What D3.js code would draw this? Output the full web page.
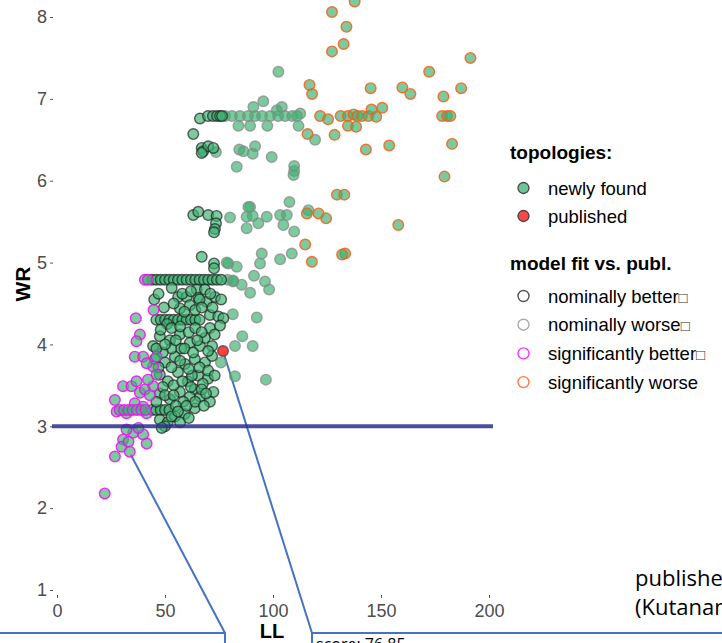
<!DOCTYPE html>
<html>
<head>
<meta charset="utf-8">
<script src="https://cdn.jsdelivr.net/npm/d3@7"></script>
<style>
body { margin: 0; background: #fff; }
svg { display: block; }
</style>
</head>
<body>
<svg id="svg1" width="722" height="643"></svg>
<script>
var width = document.getElementById('svg1').clientWidth;
var height = document.getElementById('svg1').clientHeight;

// tick values
var xTicks = [0, 50, 100, 150, 200];
var yTicks = [1, 2, 3, 4, 5, 6, 7, 8];

// [LL, WR]
var sigWorse = [
    [127.3,8.06],[137.8,8.19],[134.0,7.88],[132.7,7.67],[127.3,7.58],[191.4,7.50],[172.3,7.33],
    [116.9,7.17],[118.1,7.06],[145.2,7.13],[159.9,7.14],[163.6,7.06],[187.1,7.13],[178.9,7.03],
    [121.8,6.79],[125.5,6.75],[131.3,6.79],[134.7,6.79],[137.3,6.81],[139.1,6.79],[141.2,6.79],
    [144.2,6.79],[145.6,6.87],[147.8,6.78],[150.6,6.89],[134.7,6.67],[138.5,6.66],[178.3,6.79],
    [180.6,6.79],[182.1,6.79],[116.0,6.57],[128.5,6.56],[143.0,6.38],[153.8,6.43],[182.9,6.45],
    [179.4,6.05],[129.6,5.83],[133.0,5.83],[115.7,5.60],[121.1,5.60],[124.6,5.54],[114.9,5.22],
    [118.0,5.01],[133.4,5.11],[132.0,5.10],[158.0,5.46]
];

var nomWorse = [
    [102.5,7.33],[95.5,6.97],[90.9,6.90],[104.1,6.90],[101.8,6.86],[112.6,6.82],
    [77.8,6.79],[81.0,6.79],[84.7,6.79],[88.4,6.79],[91.7,6.79],[94.9,6.79],[98.7,6.79],
    [102.4,6.79],[105.6,6.79],[108.9,6.79],[111.1,6.79],
    [84.0,6.67],[89.4,6.67],[97.4,6.67],[111.8,6.67],[119.5,6.50],
    [84.4,6.38],[86.3,6.36],[91.7,6.42],[90.6,6.33],[99.4,6.29],[83.2,6.17],[109.8,6.18],
    [109.8,6.12],[109.5,6.07],[73.6,6.35],
    [107.6,5.74],[89.4,5.68],[80.1,5.55],[88.6,5.68],[87.8,5.56],[87.8,5.42],[93.2,5.48],
    [97.1,5.56],[90.6,5.57],[103.3,5.58],[106.4,5.58],[104.8,5.46],[109.8,5.38],[116.4,5.64],
    [94.8,5.11],[94.0,4.99],[103.3,5.04],[108.7,5.11],[79.3,4.99],[83.2,4.95],[78.6,5.00],
    [91.2,4.84],[96.3,4.77],[98.2,4.67],[89.4,4.63],[81.6,4.77],[85.5,4.73],[79.0,4.79],[81.5,4.78],
    [81.4,4.37],[92.5,4.33],[82.4,3.98],[85.8,4.10],[90.6,3.98],[96.7,3.57],[82.4,3.61],[75.9,3.78]
];

var nomBetter = [
    [66.2,6.76],[69.9,6.79],[72.2,6.79],[74.1,6.79],[75.5,6.79],[76.4,6.79],
    [63.1,6.57],[67.0,6.40],[67.7,6.36],[70.0,6.42],[72.4,6.40],[67.0,6.34],
    [63.1,5.58],[65.4,5.62],[70.0,5.58],[73.9,5.57],[73.6,5.48],[73.1,5.41],[72.7,5.37],
    [67.0,5.07],[72.7,4.99],[72.7,4.93],
    [44,4.79],[46,4.79],[48,4.79],[50,4.79],[52,4.79],[54,4.79],[56,4.79],[58,4.79],[60,4.79],
    [62,4.79],[64,4.79],[66,4.79],[68,4.79],[70,4.79],[72,4.79],[74,4.79],[76,4.79],
    [53.1,4.69],[56.1,4.58],[64.7,4.67],[65.4,4.57],[69.3,4.52],[73.1,4.58],[60.0,4.58],
    [68.5,4.67],[56.9,4.44],[61.5,4.48],[70.8,4.36],[74.7,4.34],[77.0,4.32],[70.8,4.20],[75.5,4.23],
    [46,4.30],[48,4.30],[50,4.30],[52,4.30],[54,4.30],[56,4.30],[58,4.30],[60,4.30],[62,4.30],
    [64,4.30],[66,4.30],
    [47.6,4.10],[52.3,4.05],[56.9,4.12],[61.5,4.02],[66.2,3.98],[68.5,4.08],[71.8,3.98],
    [45.3,3.82],[50.0,3.78],[54.6,3.85],[59.2,3.76],[63.8,3.82],[68.5,3.78],[71.8,3.86],
    [47.6,3.63],[51.3,3.55],[56.0,3.66],[60.6,3.55],[65.3,3.62],[69.9,3.58],[63.8,3.45],
    [47.6,3.40],[52.3,3.33],[56.9,3.42],[61.5,3.36],[66.2,3.36],[72.4,3.42],[70.8,3.30],
    [44,3.20],[46,3.20],[48,3.20],[50,3.20],[52,3.20],
    [47.6,3.08],[51.3,3.05],[54.6,3.12],[59.2,3.15],[63.8,3.22],[50,3.00],[48.5,2.98],
    [49.5,4.45],[51.0,4.25],[53.0,3.95],[57.5,3.95],[49.0,3.90],[58.5,3.30],[55.0,3.25],
    [62.5,3.62],[67.5,3.52],[44.5,3.98],
    [45,4.55],[47,4.62],[58,4.62],[62,4.65],[66,4.55],[71,4.62],[76,4.55],[54,4.50],[59,4.40],
    [64,4.42],[67,4.45],[72,4.45],
    [48,4.18],[53,4.20],[57,4.22],[61,4.15],[64,4.20],[67,4.15],[73,4.12],
    [46,3.95],[50,4.00],[55,4.05],[59,3.95],[63,3.90],[65,4.05],[70,3.92],
    [47,3.72],[53,3.72],[57,3.80],[61,3.70],[66,3.72],[70,3.68],[73,3.62],
    [49,3.48],[54,3.50],[58,3.55],[62,3.48],[67,3.45],[69,3.40],
    [46,3.30],[50,3.38],[54,3.38],[60,3.25],[64,3.30],[68,3.25],
    [53,3.12],[57,3.05],[61,3.10],[56,3.18]
];

var sigBetter = [
    [40.7,4.79],[42.1,4.79],[44.7,4.42],[36.5,4.32],[38.4,4.12],[36.8,4.04],[36.0,3.85],
    [39.9,3.85],[46.1,3.85],[44.5,3.73],[41.5,3.77],[30.6,3.49],[34.5,3.49],[36.8,3.55],
    [26.8,3.32],[27.6,3.18],[32.2,3.16],[36.0,3.28],[39.9,3.24],[44.5,3.49],[46.1,3.63],
    [41.5,3.16],[38.4,3.41],[35.3,2.92],[39.9,2.90],[32.2,2.96],[30.6,2.84],[26.8,2.63],
    [22.1,2.18],[29.9,2.75],[33.7,2.69],[41.5,2.79],[33.1,2.81],[37.7,2.98],
    [29,3.20],[31,3.20],[33,3.20],[35,3.20],[37,3.20],[39,3.20],[41,3.20],
    [40.7,3.45],[43.0,3.38],[42.1,3.57]
];

var published = [[76.85, 3.92]];

var legendTopo = ['newly found', 'published'];
var legendFit = ['nominally better', 'nominally worse', 'significantly better', 'significantly worse'];
var fitColors = ['#555555', '#aaaaaa', '#ff33ff', '#ff7a40'];

var scaleX = d3.scaleLinear().domain([0, 200]).range([57, 489]);
var scaleY = d3.scaleLinear().domain([1, 8]).range([590, 17]);

var svg1 = d3.select('#svg1');

// axes
var yAxis = svg1.append('g')
    .attr('transform', 'translate(53,0)')
    .call(d3.axisLeft(scaleY).tickValues(yTicks).tickFormat(d3.format('d')).tickSize(3).tickPadding(3));
var xAxis = svg1.append('g')
    .attr('transform', 'translate(0,595)')
    .call(d3.axisBottom(scaleX).tickValues(xTicks).tickFormat(d3.format('d')).tickSize(3).tickPadding(6));

[yAxis, xAxis].forEach(function(a){
    a.select('.domain').remove();
    a.selectAll('line').attr('stroke', '#555');
    a.selectAll('text')
        .attr('fill', '#4d4d4d')
        .style('font-family', 'Liberation Sans, Arial, sans-serif')
        .style('font-size', '18px');
});

svg1.append('text')
    .text('WR')
    .attr('transform', 'translate(30,284)rotate(-90)')
    .style('text-anchor', 'middle')
    .style('font-family', 'Liberation Sans, Arial, sans-serif')
    .style('font-weight', 'bold')
    .style('font-size', '21px');

svg1.append('text')
    .text('LL')
    .attr('transform', 'translate(272,638)')
    .style('text-anchor', 'middle')
    .style('font-family', 'Liberation Sans, Arial, sans-serif')
    .style('font-weight', 'bold')
    .style('font-size', '20px');

// callout lines and boxes
var blue = '#4472c4';
svg1.append('line')
    .attr('x1', scaleX(published[0][0])).attr('y1', scaleY(published[0][1]))
    .attr('x2', 312).attr('y2', 633)
    .attr('stroke', blue).attr('stroke-width', 2);
svg1.append('line')
    .attr('x1', scaleX(33.7) + 1).attr('y1', scaleY(2.69) + 3)
    .attr('x2', 225).attr('y2', 633)
    .attr('stroke', blue).attr('stroke-width', 2);
svg1.append('path')
    .attr('d', 'M-5,633H225V650')
    .attr('fill', 'none').attr('stroke', blue).attr('stroke-width', 2);
svg1.append('path')
    .attr('d', 'M312,650V633H730')
    .attr('fill', 'none').attr('stroke', blue).attr('stroke-width', 2);

svg1.append('text')
    .text('score: 76.85')
    .attr('x', 316).attr('y', 650)
    .style('font-family', 'Open Sans, sans-serif')
    .style('font-size', '16px');

svg1.append('text')
    .text('published')
    .attr('x', 635).attr('y', 586)
    .style('font-family', 'Open Sans, sans-serif')
    .style('font-size', '22px');
svg1.append('text')
    .text('(Kutanan et al.)')
    .attr('x', 635).attr('y', 615)
    .style('font-family', 'Open Sans, sans-serif')
    .style('font-size', '22px');

// points
function drawPoints(data, stroke, sop, fill, fop) {
    svg1.append('g')
        .selectAll('circle')
        .data(data)
        .enter()
        .append('circle')
        .attr('cx', function(d){ return scaleX(d[0]); })
        .attr('cy', function(d){ return scaleY(d[1]); })
        .attr('r', 5.3)
        .attr('fill', fill)
        .attr('fill-opacity', fop)
        .attr('stroke', stroke)
        .attr('stroke-opacity', sop)
        .attr('stroke-width', 1.4);
}

drawPoints(nomWorse, '#888888', 0.75, '#3cb371', 0.68);
drawPoints(nomBetter, '#1f1f1f', 0.7, '#3cb371', 0.68);
drawPoints(sigBetter, '#ff00ff', 0.85, '#3cb371', 0.68);
drawPoints(sigWorse, '#ff5a14', 0.85, '#3cb371', 0.68);
drawPoints(published, '#444444', 0.8, '#ff4040', 1);

// threshold line
svg1.append('line')
    .attr('x1', 52).attr('x2', 493)
    .attr('y1', scaleY(3)).attr('y2', scaleY(3))
    .attr('stroke', '#2e2e8f').attr('stroke-opacity', 0.85)
    .attr('stroke-width', 4);

// legend
var legend = svg1.append('g')
    .style('font-family', 'Liberation Sans, Arial, sans-serif');

legend.append('text')
    .text('topologies:')
    .attr('x', 510).attr('y', 159)
    .style('font-weight', 'bold')
    .style('font-size', '19px');

legendTopo.forEach(function(t, i){
    legend.append('circle')
        .attr('cx', 523.5).attr('cy', 188 + i * 28).attr('r', 5.5)
        .attr('fill', i == 0 ? '#6cc596' : '#ff4848')
        .attr('stroke', '#444').attr('stroke-width', 1.3);
    legend.append('text')
        .text(t)
        .attr('x', 548).attr('y', 194.5 + i * 28)
        .style('font-size', '18.5px');
});

legend.append('text')
    .text('model fit vs. publ.')
    .attr('x', 510).attr('y', 270)
    .style('font-weight', 'bold')
    .style('font-size', '19px');

legendFit.forEach(function(t, i){
    legend.append('circle')
        .attr('cx', 523.5).attr('cy', 296 + i * 28.7).attr('r', 5.5)
        .attr('fill', 'none')
        .attr('stroke', fitColors[i]).attr('stroke-width', 1.4);
    var tx = legend.append('text')
        .attr('x', 548).attr('y', 302.5 + i * 28.7)
        .style('font-size', '18.5px');
    tx.append('tspan').text(t);
    if (i < 3) {
        tx.append('tspan').text('\u25a1').style('font-size', '15px').attr('fill', '#333');
    }
});
</script>
</body>
</html>
